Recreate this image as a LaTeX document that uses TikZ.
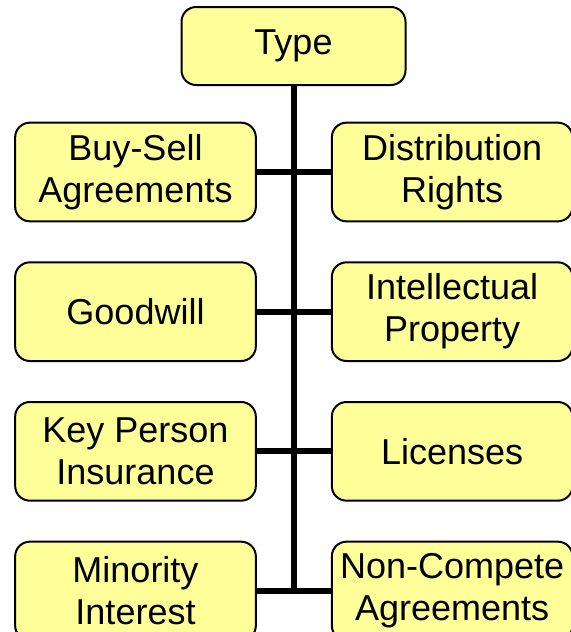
\documentclass[tikz,border=0pt]{standalone}
\usepackage{fontspec}
\setmainfont{Liberation Sans}
\usepackage{xcolor}
\usetikzlibrary{positioning}

\definecolor{boxfill}{HTML}{FFFF99}

\begin{document}
\begin{tikzpicture}[
		x=0.75pt, y=-0.75pt,
		node distance=29.25pt and 55.5pt,
		every node/.style={font=\fontsize{27}{31.5}\selectfont},
		object/.style={rectangle, rounded corners=11pt, draw, line width=1.5pt, fill=boxfill,
			minimum width=180.5pt, minimum height=74pt, inner sep=1pt, align=center},
		link/.style={line width=4.5pt}
		]
		
		% Frame of the picture
		\useasboundingbox (0,0) rectangle (571,632);
		
		% Top node
		\node[object, minimum width=168pt, minimum height=58.5pt] (type) at (293.5,46) {Type};
		
		% Left column
		\node[object] (buysell) at (135.5,172) {Buy-Sell\\Agreements};
		\node[object, below=of buysell] (goodwill) {Goodwill};
		\node[object, below=of goodwill] (keyperson) {Key Person\\Insurance};
		\node[object, below=of keyperson] (minority) {Minority\\Interest};
		
		% Right column
		\node[object, right=of buysell] (distrib) {Distribution\\Rights};
		\node[object, right=of goodwill] (intprop) {Intellectual\\Property};
		\node[object, right=of keyperson] (licenses) {Licenses};
		\node[object, right=of minority] (noncomp) {Non-Compete\\Agreements};
		
		% Trunk
		\coordinate (base) at (type.south |- minority.east);
		\draw[link] (type.south) -- ([yshift=-2.25pt]base);
		
		% Branches
		\draw[link] (buysell.east) -- (distrib.west);
		\draw[link] (goodwill.east) -- (intprop.west);
		\draw[link] (keyperson.east) -- (licenses.west);
		\draw[link] (minority.east) -- (noncomp.west);
		
	\end{tikzpicture}
\end{document}
